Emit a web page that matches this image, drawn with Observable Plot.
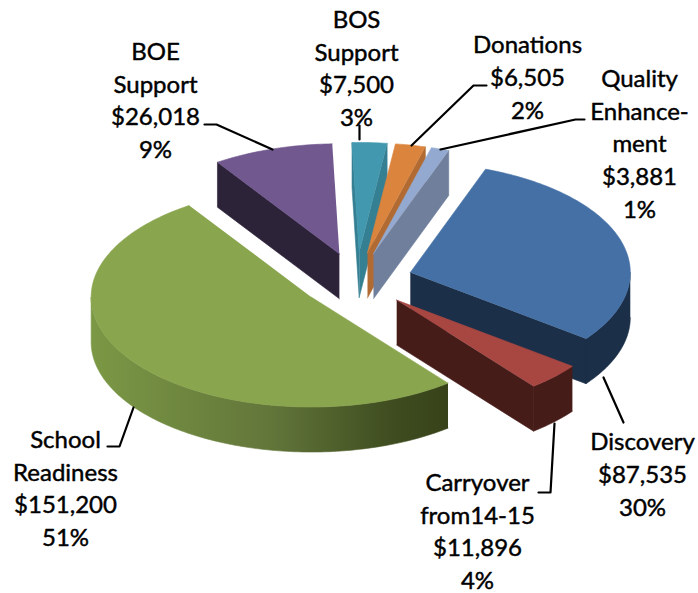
<!DOCTYPE html>
<html>
<head>
<meta charset="utf-8">
<script src="https://cdn.jsdelivr.net/npm/d3@7"></script>
<script src="https://cdn.jsdelivr.net/npm/@observablehq/plot@0.6"></script>
<style>html,body{margin:0;padding:0;background:#fff}</style>
</head>
<body>
<div id="chart"></div>
<script>
// Data, clockwise from the first slice
const categories = ["Discovery", "Carryover\nfrom14-15", "School\nReadiness", "BOE\nSupport", "BOS\nSupport", "Donations", "Quality\nEnhance-\nment"];
const amounts = [87535, 11896, 151200, 26018, 7500, 6505, 3881];
const percents = ["30%", "4%", "51%", "9%", "3%", "2%", "1%"];

// Styles
const topColors = ["#4470a6", "#a84642", "#89a54e", "#71588f", "#4198af", "#db843d", "#93a9cf"];
const wallColors = ["#1b2f48", "#461c19", "url(#schoolWall)", "#2d2339", "#1a3d47", "#b06a32", "#6f7f9c"];
const endWallColors = ["#1b2f48", "#461c19", "#394519", "#2d2339", "#357f93", "#b06a32", "#6f7f9c"];
const drawOrder = [3, 4, 5, 6, 2, 0, 1];

// Pie geometry (layout of the 3-D projection)
const cx = 356, cy = 280, rx = 220, ry = 110, depth = 45, explode = 0.255, firstAngle = 20;
const rad = Math.PI / 180;
const total = d3.sum(amounts);
const cum = [0, ...d3.cumsum(amounts)];
const angles = amounts.map((_, i) => [firstAngle + 360 * cum[i] / total, firstAngle + 360 * cum[i + 1] / total]);

function rim(t, c, dz = 0) {
  return {x: c.x + rx * Math.sin(t * rad), y: c.y - ry * Math.cos(t * rad) + dz};
}
function tip(i) {
  const m = (angles[i][0] + angles[i][1]) / 2;
  return {x: cx + explode * rx * Math.sin(m * rad), y: cy - explode * ry * Math.cos(m * rad)};
}
function arcPts(a, b, c, dz = 0) {
  const n = Math.max(2, Math.ceil(b - a));
  return d3.range(n + 1).map(k => rim(a + (b - a) * k / n, c, dz));
}
function poly(pts, fill) {
  return Plot.line(pts, {x: "x", y: "y", fill, stroke: fill, strokeWidth: 0.6, curve: "linear"});
}

const pieMarks = [];
for (const i of drawOrder) {
  const [a, b] = angles[i];
  const c = tip(i);
  const below = {x: c.x, y: c.y + depth};
  // side wall at the start of the slice
  if (Math.sin(a * rad) < 0) {
    const p = rim(a, c), q = rim(a, c, depth);
    pieMarks.push(poly([c, p, q, below], endWallColors[i]));
  }
  // side wall at the end of the slice
  if (Math.sin(b * rad) > 0) {
    const p = rim(b, c), q = rim(b, c, depth);
    pieMarks.push(poly([c, p, q, below], i === 4 ? endWallColors[i] : wallColors[i]));
  }
  // outer curved wall: the part of the rim that faces the viewer
  const fa = Math.max(a, 90), fb = Math.min(b, 270);
  if (fb > fa) {
    pieMarks.push(poly([...arcPts(fa, fb, c), ...arcPts(fa, fb, c, depth).reverse()], wallColors[i]));
  }
  // top face
  pieMarks.push(poly([c, ...arcPts(a, b, c)], topColors[i]));
}

// Leader lines
const leaders = [
  [[204,124],[216,124],[272,149]],
  [[359,125],[359,139]],
  [[486,85],[473,85],[411,145]],
  [[584,119],[575,119],[440,149]],
  [[603,377],[623,422]],
  [[554,423],[550,492],[538,492]],
  [[133,407],[119,446],[107,446]]
];
const labelX = [642, 477, 65, 155, 356, 527, 639];
const labelY = [472, 529, 486, 98, 66, 75, 141.5];
const labels = categories.map((name, i) => ({
  text: `${name}\n$${d3.format(",")(amounts[i])}\n${percents[i]}`,
  x: labelX[i], y: labelY[i]
}));

const defs = () => {
  const s = d3.create("svg:defs");
  const g = s.append("linearGradient").attr("id", "schoolWall").attr("x1", 0).attr("x2", 1).attr("y1", 0).attr("y2", 0);
  g.append("stop").attr("offset", "0%").attr("stop-color", "#7b9845");
  g.append("stop").attr("offset", "50%").attr("stop-color", "#62763a");
  g.append("stop").attr("offset", "85%").attr("stop-color", "#3e4c1f");
  g.append("stop").attr("offset", "100%").attr("stop-color", "#38421a");
  return s.node();
};

const plot = Plot.plot({
  width: 698, height: 593, margin: 0,
  x: {domain: [0, 698], range: [0, 698], axis: null},
  y: {domain: [0, 593], range: [0, 593], axis: null},
  style: {background: "#fff"},
  marks: [
    defs,
    ...pieMarks,
    ...leaders.map(l => Plot.line(l, {x: d => d[0], y: d => d[1], stroke: "#000", strokeWidth: 2.2, curve: "linear"})),
    Plot.text(labels, {
      x: "x", y: "y", text: "text", fill: "#000",
      fontFamily: "Lato", fontSize: 24, lineHeight: 1.36, textAnchor: "middle",
      stroke: "#000", strokeWidth: 0.45
    })
  ]
});
document.getElementById("chart").append(plot);
</script>
</body>
</html>
